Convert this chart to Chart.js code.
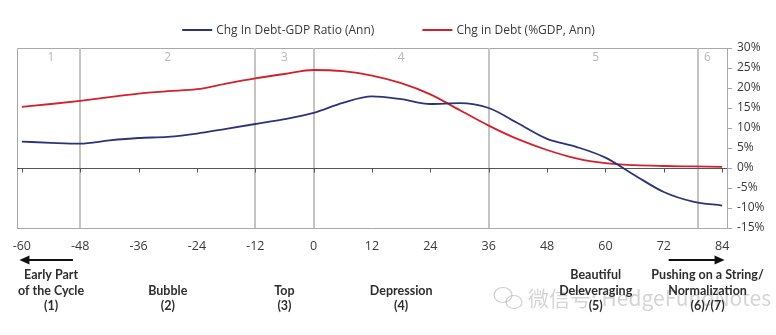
<!DOCTYPE html>
<html>
<head>
<meta charset="utf-8">
<script src="https://cdn.jsdelivr.net/npm/chart.js@4/dist/chart.umd.min.js"></script>
<style>
  html, body { margin: 0; padding: 0; background: #fff; }
  #wrap { width: 776px; height: 335px; position: relative; }
</style>
</head>
<body>
<div id="wrap"><canvas id="c" width="776" height="335"></canvas></div>
<script>
// ---- data ----
const months = [-60,-54,-48,-42,-36,-30,-24,-18,-12,-6,0,6,12,18,24,30,36,42,48,54,60,66,72,78,84];
const debtGdpRatio = [6.6,6.3,6.1,6.9,7.5,7.8,8.6,9.8,11.0,12.2,13.8,16.3,17.9,17.2,16.0,16.2,15.0,11.2,7.3,5.3,2.6,-1.8,-6.0,-8.4,-9.4];
const debtGrowth   = [15.3,16.0,16.8,17.7,18.6,19.2,19.7,21.1,22.4,23.5,24.5,24.2,23.1,21.2,18.4,14.5,10.6,7.2,4.5,2.4,1.2,0.7,0.5,0.4,0.3];
const xTickLabels = [-60,-48,-36,-24,-12,0,12,24,36,48,60,72,84];
const yTickValues = [-15,-10,-5,0,5,10,15,20,25,30];
const seriesNames = ['Chg In Debt-GDP Ratio (Ann)', 'Chg in Debt (%GDP, Ann)'];
const phaseBounds = [-48,-12,0,36,79];
const phaseNumbers = ['1','2','3','4','5','6'];
const phaseCenters = [-54,-30,-6,18,58,81];
const phaseLabels = [
  ['Early Part','of the Cycle','(1)'],
  ['Bubble','(2)'],
  ['Top','(3)'],
  ['Depression','(4)'],
  ['Beautiful','Deleveraging','(5)'],
  ['Pushing on a String/','Normalization','(6)/(7)']
];

const BLUE = '#2b3576';
const RED = '#d4202c';
const TXT = '#3a3a3a';
const FONT = '"Open Sans", "Liberation Sans", sans-serif';
const BOLDFONT = 'Lato, "Open Sans", sans-serif';

const decor = {
  id: 'decor',
  beforeDatasetsDraw(chart) {
    const {ctx, chartArea: a, scales: {x, y}} = chart;
    ctx.save();
    // frame top & left
    ctx.strokeStyle = '#a8a8a8';
    ctx.lineWidth = 1;
    ctx.beginPath();
    ctx.moveTo(a.left + 0.5, a.bottom);
    ctx.lineTo(a.left + 0.5, a.top + 0.5);
    ctx.lineTo(a.right, a.top + 0.5);
    ctx.stroke();
    // phase lines
    ctx.strokeStyle = '#c4c4c4';
    ctx.lineWidth = 2;
    phaseBounds.forEach(m => {
      const px = Math.round(x.getPixelForValue(m));
      ctx.beginPath(); ctx.moveTo(px, a.top); ctx.lineTo(px, a.bottom); ctx.stroke();
    });
    // phase numbers
    ctx.fillStyle = '#b8b8b8';
    ctx.font = '12px ' + FONT;
    ctx.textAlign = 'center'; ctx.textBaseline = 'middle';
    phaseNumbers.forEach((n, i) => ctx.fillText(n, x.getPixelForValue(phaseCenters[i]), a.top + 10));
    // zero line with ticks
    const y0 = Math.round(y.getPixelForValue(0)) + 0.5;
    ctx.strokeStyle = '#555';
    ctx.lineWidth = 1;
    ctx.beginPath(); ctx.moveTo(a.left, y0); ctx.lineTo(a.right, y0); ctx.stroke();
    xTickLabels.forEach(m => {
      const px = Math.round(x.getPixelForValue(m)) + 0.5;
      ctx.beginPath(); ctx.moveTo(px, y0); ctx.lineTo(px, y0 + 4); ctx.stroke();
    });
    ctx.restore();
  },
  afterDraw(chart) {
    const {ctx, chartArea: a, scales: {x}} = chart;
    ctx.save();
    // legend
    ctx.font = '12px ' + FONT;
    ctx.textBaseline = 'middle'; ctx.textAlign = 'left';
    const legY = 30;
    const items = chart.data.datasets;
    const gap = 48, sample = 30, sgap = 4;
    const widths = items.map(d => sample + sgap + ctx.measureText(d.label).width);
    let total = widths.reduce((s, w) => s + w, 0) + gap * (items.length - 1);
    let lx = 388.5 - total / 2;
    items.forEach((d, i) => {
      ctx.strokeStyle = d.borderColor; ctx.lineWidth = 2;
      ctx.beginPath(); ctx.moveTo(lx, legY); ctx.lineTo(lx + sample, legY); ctx.stroke();
      ctx.fillStyle = TXT;
      ctx.fillText(d.label, lx + sample + sgap, legY + 1);
      lx += widths[i] + gap;
    });
    // watermark (behind labels)
    ctx.fillStyle = 'rgba(150,150,150,0.4)';
    ctx.font = '21px "Noto Sans CJK SC", sans-serif';
    ctx.textAlign = 'left';
    ctx.fillText('微信号: HedgeFundNotes', 528, 298);
    ctx.strokeStyle = 'rgba(150,150,150,0.45)'; ctx.lineWidth = 1.2;
    ctx.beginPath(); ctx.ellipse(503, 295, 9, 7.5, 0, 0, Math.PI * 2); ctx.stroke();
    ctx.beginPath(); ctx.ellipse(514, 302, 8, 6.5, 0, 0, Math.PI * 2); ctx.stroke();
    // bottom phase labels
    ctx.font = 'bold 12.5px ' + BOLDFONT;
    ctx.textAlign = 'center';
    ctx.fillStyle = '#2e2e2e';
    const rows = [275, 291, 306];
    phaseLabels.forEach((lines, i) => {
      const off = 3 - lines.length;
      lines.forEach((t, j) => ctx.fillText(t, x.getPixelForValue(phaseCenters[i]), rows[j + off]));
    });
    // arrows
    const arrow = (x1, x2, yy) => {
      ctx.strokeStyle = '#111'; ctx.fillStyle = '#111'; ctx.lineWidth = 2;
      const dir = Math.sign(x2 - x1);
      ctx.beginPath(); ctx.moveTo(x1, yy); ctx.lineTo(x2 - dir * 8, yy); ctx.stroke();
      ctx.beginPath(); ctx.moveTo(x2, yy); ctx.lineTo(x2 - dir * 10, yy - 4.5); ctx.lineTo(x2 - dir * 10, yy + 4.5); ctx.closePath(); ctx.fill();
    };
    arrow(x.getPixelForValue(-49.5), x.getPixelForValue(-60.5), 260);
    arrow(x.getPixelForValue(73), x.getPixelForValue(84.5), 260);
    ctx.restore();
  }
};

new Chart(document.getElementById('c'), {
  type: 'line',
  data: {
    datasets: [
      { label: seriesNames[0], data: months.map((m, i) => ({x: m, y: debtGdpRatio[i]})),
        borderColor: BLUE, borderWidth: 1.8, pointRadius: 0, cubicInterpolationMode: 'monotone', fill: false },
      { label: seriesNames[1], data: months.map((m, i) => ({x: m, y: debtGrowth[i]})),
        borderColor: RED, borderWidth: 1.8, pointRadius: 0, cubicInterpolationMode: 'monotone', fill: false }
    ]
  },
  options: {
    responsive: false, animation: false, devicePixelRatio: 1,
    layout: { padding: { left: 17, top: 48, right: 0, bottom: 0 } },
    plugins: { legend: { display: false }, tooltip: { enabled: false } },
    scales: {
      x: {
        type: 'linear', min: -61, max: 85,
        afterBuildTicks: s => { s.ticks = xTickLabels.map(v => ({value: v})); },
        afterFit: s => { s.height = 107; },
        grid: { display: false, drawTicks: false },
        border: { display: true, color: '#a8a8a8', width: 1 },
        ticks: { padding: 11, color: TXT, font: { family: FONT, size: 12.5 }, maxRotation: 0, autoSkip: false,
                 callback: v => String(v) }
      },
      y: {
        position: 'right', min: -15, max: 30,
        afterBuildTicks: s => { s.ticks = yTickValues.map(v => ({value: v})); },
        afterFit: s => { s.width = 49; },
        grid: { drawOnChartArea: false, drawTicks: true, tickLength: 5, color: '#a8a8a8' },
        border: { display: true, color: '#a8a8a8', width: 1 },
        ticks: { padding: 5, color: TXT, font: { family: FONT, size: 12 }, callback: v => v + '%' }
      }
    }
  },
  plugins: [decor]
});
</script>
</body>
</html>
